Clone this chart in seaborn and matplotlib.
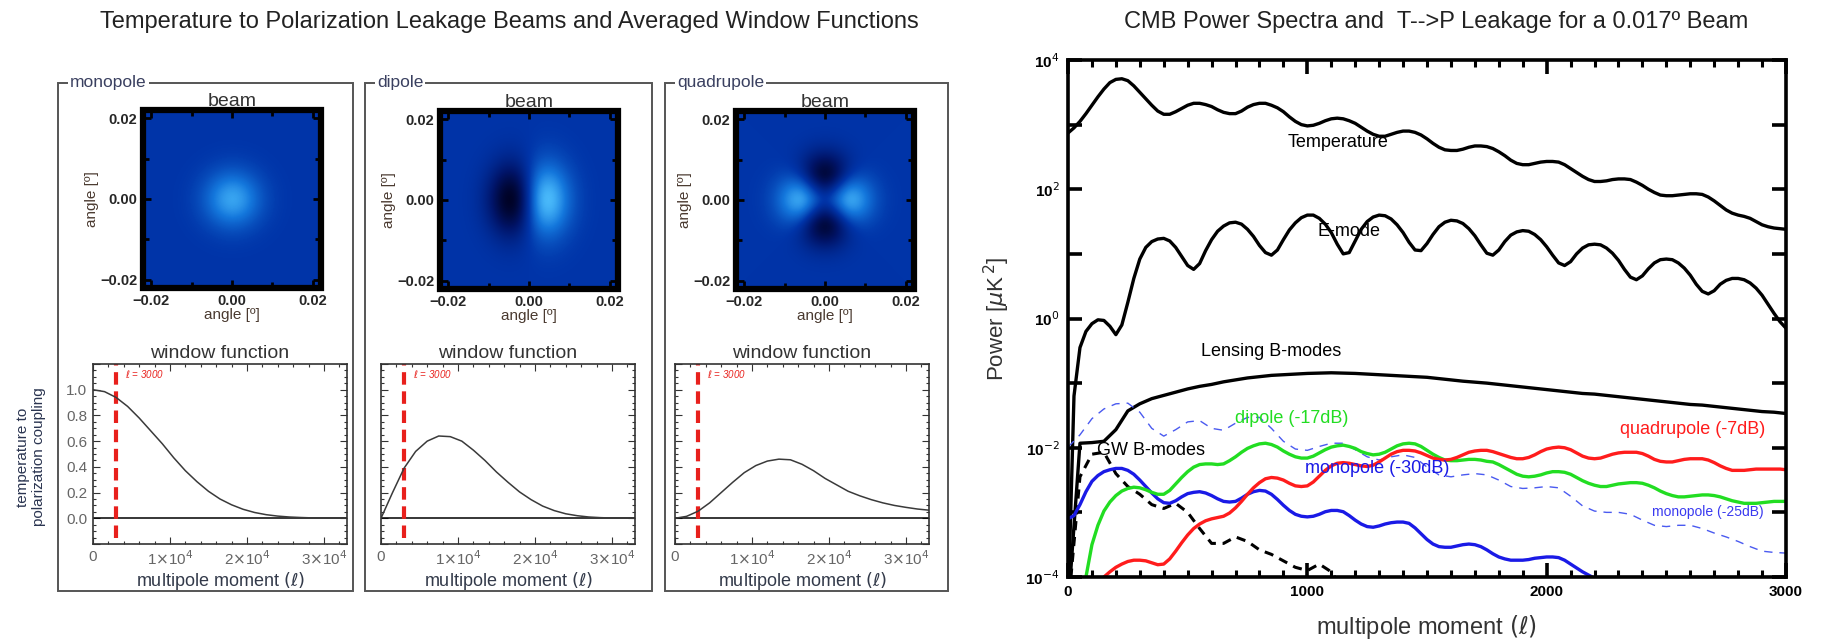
import numpy as np
import matplotlib
matplotlib.use('Agg')
import matplotlib.pyplot as plt
import seaborn as sns
from matplotlib.colors import LinearSegmentedColormap
from matplotlib.patches import Rectangle
from matplotlib.ticker import MultipleLocator, FixedLocator, FuncFormatter, LogLocator, NullLocator

# ---------------- data ----------------
# beam maps: half profiles on 0, 0.003, ... 0.024 deg (mirrored below)
beam_half_axis = [0.0, 0.003, 0.006, 0.009, 0.012, 0.015, 0.018, 0.021, 0.024]
core_half = [1.0, 0.80, 0.41, 0.135, 0.029, 0.004, 0.0, 0.0, 0.0]          # round gaussian core
odd_half = [0.0, 0.88, 0.90, 0.445, 0.127, 0.022, 0.003, 0.0, 0.0]         # dipole x-profile
wide_half = [1.0, 0.88, 0.61, 0.32, 0.135, 0.044, 0.011, 0.002, 0.0]       # dipole y-profile
ring_half = [0.0, 0.48, 0.99, 0.73, 0.28, 0.06, 0.01, 0.0, 0.0]            # quadrupole lobes
mono_peak = 0.9

# averaged window functions
win_ell = np.arange(0, 33001, 1500)
win_mono = [1.00, 0.985, 0.94, 0.87, 0.78, 0.68, 0.58, 0.47, 0.37, 0.285, 0.21, 0.15,
            0.105, 0.07, 0.045, 0.028, 0.017, 0.01, 0.006, 0.003, 0.002, 0.001, 0.0005]
win_dip = [0.0, 0.2, 0.39, 0.52, 0.60, 0.64, 0.635, 0.60, 0.53, 0.45, 0.36, 0.28,
           0.205, 0.145, 0.095, 0.06, 0.035, 0.02, 0.01, 0.005, 0.002, 0.001, 0.0]
win_quad = [0.0, 0.015, 0.055, 0.12, 0.20, 0.28, 0.355, 0.41, 0.445, 0.46, 0.455, 0.42,
            0.37, 0.31, 0.26, 0.21, 0.175, 0.145, 0.12, 0.10, 0.085, 0.072, 0.063]
ell_mark = 3000

# power spectra, log10 of power [uK^2]
ell25 = np.arange(0, 3001, 25)
ell50 = np.arange(0, 3001, 50)
temp_log = [2.87, 2.95, 3.05, 3.17, 3.30, 3.43, 3.55, 3.65, 3.70, 3.71,
            3.68, 3.60, 3.50, 3.40, 3.30, 3.21, 3.16, 3.16, 3.20, 3.25,
            3.30, 3.33, 3.33, 3.31, 3.28, 3.23, 3.19, 3.17, 3.17, 3.21,
            3.27, 3.31, 3.33, 3.33, 3.30, 3.26, 3.20, 3.12, 3.05, 3.00,
            2.98, 2.99, 3.02, 3.06, 3.09, 3.10, 3.09, 3.06, 3.02, 2.96,
            2.90, 2.85, 2.82, 2.82, 2.85, 2.88, 2.90, 2.90, 2.88, 2.84,
            2.78, 2.71, 2.65, 2.61, 2.60, 2.60, 2.62, 2.65, 2.67, 2.67,
            2.66, 2.63, 2.58, 2.52, 2.45, 2.40, 2.38, 2.38, 2.40, 2.42,
            2.43, 2.43, 2.42, 2.38, 2.32, 2.26, 2.20, 2.15, 2.12, 2.12,
            2.13, 2.15, 2.16, 2.16, 2.15, 2.11, 2.06, 2.00, 1.95, 1.91,
            1.90, 1.90, 1.91, 1.92, 1.93, 1.93, 1.92, 1.88, 1.82, 1.75,
            1.68, 1.63, 1.60, 1.58, 1.55, 1.50, 1.45, 1.42, 1.40, 1.39,
            1.38]
emode_log = [-4.5, -1.2, -0.45, -0.2, -0.08, -0.02, -0.03, -0.12, -0.25, -0.1,
             0.25, 0.62, 0.92, 1.1, 1.19, 1.23, 1.24, 1.2, 1.1, 0.96,
             0.82, 0.76, 0.85, 1.05, 1.22, 1.35, 1.43, 1.48, 1.49, 1.46,
             1.38, 1.27, 1.13, 1.02, 0.98, 1.06, 1.22, 1.37, 1.48, 1.56,
             1.6, 1.6, 1.55, 1.46, 1.33, 1.15, 1.0, 1.02, 1.2, 1.38,
             1.5, 1.57, 1.6, 1.59, 1.54, 1.45, 1.33, 1.18, 1.06, 1.05,
             1.16, 1.3, 1.42, 1.49, 1.52, 1.51, 1.47, 1.39, 1.28, 1.14,
             1.01, 0.98, 1.06, 1.19, 1.29, 1.34, 1.36, 1.35, 1.3, 1.22,
             1.11, 0.98, 0.86, 0.82, 0.88, 1.0, 1.09, 1.14, 1.15, 1.14,
             1.09, 1.01, 0.9, 0.76, 0.64, 0.6, 0.66, 0.77, 0.86, 0.91,
             0.92, 0.91, 0.86, 0.78, 0.67, 0.53, 0.42, 0.38, 0.43, 0.53,
             0.59, 0.62, 0.62, 0.6, 0.55, 0.47, 0.36, 0.22, 0.08, -0.05,
             -0.15]
lens_log = [-4.50, -1.93, -1.92, -1.90, -1.72, -1.43, -1.32, -1.24, -1.19, -1.14,
            -1.09, -1.05, -1.02, -0.98, -0.95, -0.92, -0.90, -0.88, -0.87, -0.86,
            -0.85, -0.845, -0.84, -0.845, -0.85, -0.86, -0.87, -0.88, -0.89, -0.90,
            -0.91, -0.93, -0.95, -0.97, -0.985, -1.00, -1.02, -1.04, -1.06, -1.08,
            -1.10, -1.12, -1.14, -1.16, -1.17, -1.19, -1.21, -1.23, -1.25, -1.27,
            -1.29, -1.31, -1.33, -1.34, -1.36, -1.38, -1.40, -1.42, -1.44, -1.45,
            -1.47]
gw_ell = np.arange(0, 1201, 50)
gw_log = [-4.50, -2.45, -2.10, -2.07, -2.40, -2.60, -2.72, -2.88, -2.94, -2.86,
          -3.00, -3.25, -3.48, -3.48, -3.38, -3.45, -3.58, -3.65, -3.75, -3.85,
          -3.90, -3.80, -3.92, -4.20, -4.60]
mono30_ell = np.arange(0, 2301, 25)
mono30_log = [-3.1, -3.05, -2.88, -2.68, -2.52, -2.43, -2.37, -2.34, -2.32, -2.32,
              -2.35, -2.41, -2.5, -2.6, -2.7, -2.79, -2.85, -2.86, -2.82, -2.76,
              -2.71, -2.69, -2.68, -2.7, -2.74, -2.79, -2.83, -2.84, -2.83, -2.78,
              -2.72, -2.68, -2.66, -2.67, -2.72, -2.8, -2.89, -2.97, -3.03, -3.06,
              -3.07, -3.06, -3.03, -2.99, -2.97, -2.97, -2.99, -3.05, -3.12, -3.18,
              -3.22, -3.23, -3.21, -3.18, -3.16, -3.15, -3.15, -3.17, -3.24, -3.33,
              -3.42, -3.49, -3.53, -3.54, -3.54, -3.52, -3.5, -3.49, -3.5, -3.53,
              -3.58, -3.64, -3.69, -3.72, -3.74, -3.74, -3.74, -3.73, -3.71, -3.7,
              -3.69, -3.69, -3.7, -3.74, -3.8, -3.86, -3.92, -3.97, -4.02, -4.08,
              -4.15, -4.22, -4.3]
dip17_ell = np.arange(50, 3001, 25)
dip17_log = [-4.3, -4.0, -3.5, -3.2, -2.98, -2.84, -2.74, -2.67, -2.63, -2.61,
             -2.62, -2.65, -2.69, -2.72, -2.72, -2.66, -2.56, -2.46, -2.37, -2.3,
             -2.26, -2.25, -2.25, -2.26, -2.25, -2.2, -2.14, -2.07, -2.01, -1.97,
             -1.94, -1.93, -1.95, -1.99, -2.05, -2.1, -2.14, -2.16, -2.16, -2.13,
             -2.08, -2.03, -1.99, -1.97, -1.96, -1.98, -2.01, -2.06, -2.09, -2.11,
             -2.1, -2.07, -2.02, -1.97, -1.94, -1.93, -1.94, -1.98, -2.04, -2.1,
             -2.15, -2.19, -2.2, -2.2, -2.19, -2.18, -2.18, -2.19, -2.21, -2.22,
             -2.26, -2.31, -2.36, -2.41, -2.44, -2.45, -2.44, -2.42, -2.39, -2.37,
             -2.37, -2.38, -2.41, -2.46, -2.51, -2.55, -2.58, -2.6, -2.6, -2.58,
             -2.56, -2.55, -2.54, -2.54, -2.55, -2.58, -2.62, -2.67, -2.71, -2.74,
             -2.76, -2.76, -2.75, -2.74, -2.73, -2.73, -2.74, -2.76, -2.79, -2.82,
             -2.84, -2.86, -2.86, -2.86, -2.85, -2.84, -2.83, -2.83, -2.83]
quad7_ell = np.arange(150, 3001, 25)
quad7_log = [-4.0, -3.92, -3.85, -3.8, -3.76, -3.74, -3.74, -3.75, -3.78, -3.81,
             -3.8, -3.72, -3.6, -3.47, -3.35, -3.25, -3.18, -3.13, -3.1, -3.08,
             -3.06, -3.01, -2.93, -2.83, -2.72, -2.62, -2.54, -2.48, -2.46, -2.47,
             -2.5, -2.55, -2.59, -2.6, -2.59, -2.53, -2.44, -2.35, -2.28, -2.24,
             -2.23, -2.24, -2.26, -2.28, -2.29, -2.27, -2.22, -2.16, -2.1, -2.06,
             -2.04, -2.04, -2.05, -2.08, -2.12, -2.16, -2.18, -2.19, -2.18, -2.15,
             -2.11, -2.07, -2.05, -2.04, -2.04, -2.06, -2.09, -2.12, -2.15, -2.17,
             -2.17, -2.15, -2.11, -2.06, -2.02, -2.0, -1.99, -2.0, -2.03, -2.08,
             -2.13, -2.16, -2.17, -2.16, -2.13, -2.1, -2.08, -2.07, -2.07, -2.07,
             -2.09, -2.13, -2.18, -2.21, -2.22, -2.22, -2.2, -2.18, -2.17, -2.17,
             -2.17, -2.19, -2.23, -2.28, -2.32, -2.35, -2.35, -2.35, -2.34, -2.33,
             -2.33, -2.33, -2.33, -2.33, -2.34]
mono25_log = [-1.99, -1.80, -1.55, -1.40, -1.32, -1.31, -1.45, -1.70, -1.82, -1.72,
              -1.60, -1.58, -1.70, -1.73, -1.62, -1.53, -1.53, -1.70, -1.90, -2.02,
              -2.04, -1.98, -1.93, -1.93, -2.03, -2.14, -2.19, -2.14, -2.11, -2.15,
              -2.30, -2.42, -2.45, -2.42, -2.40, -2.42, -2.50, -2.60, -2.63, -2.62,
              -2.60, -2.62, -2.75, -2.90, -2.98, -3.00, -3.00, -3.03, -3.12, -3.20,
              -3.22, -3.20, -3.20, -3.25, -3.32, -3.38, -3.45, -3.53, -3.60, -3.62,
              -3.63]

# ---------------- style ----------------
sns.set_theme(style='white')
NARROW = ['Liberation Sans Narrow', 'Liberation Sans', 'DejaVu Sans']
HELV = ['Liberation Sans', 'DejaVu Sans']
plt.rcParams['font.family'] = NARROW
plt.rcParams['mathtext.fontset'] = 'dejavusans'

beam_cmap = LinearSegmentedColormap.from_list(
    'beam', [(0.0, '#00001c'), (0.25, '#001468'), (0.5, '#0034a8'),
             (0.75, '#1477dc'), (1.0, '#52c4ff')])

W, H = 1834, 644


def rect(x0, y0, x1, y1):
    return [x0 / W, 1 - y1 / H, (x1 - x0) / W, (y1 - y0) / H]


def mirror(half):
    half = np.asarray(half, float)
    return np.concatenate([half[:0:-1], half])


def mirror_odd(half):
    half = np.asarray(half, float)
    return np.concatenate([-half[:0:-1], half])


fig = plt.figure(figsize=(W / 100, H / 100), dpi=100)

fig.text(509 / W, 1 - 22 / H, 'Temperature to Polarization Leakage Beams and Averaged Window Functions',
         ha='center', va='center', fontsize=17, color='#222222')
fig.text(1436 / W, 1 - 22 / H, 'CMB Power Spectra and  T-->P Leakage for a 0.017º Beam',
         ha='center', va='center', fontsize=17, color='#222222')

# ---------------- beam maps ----------------
core = mirror(core_half)
beams = {
    'monopole': mono_peak * np.outer(core, core),
    'dipole': np.outer(mirror(wide_half), mirror_odd(odd_half)),
    'quadrupole': np.outer(core, mirror(ring_half)) - np.outer(mirror(ring_half), core),
}
beams['dipole'] /= np.abs(beams['dipole']).max()
beams['quadrupole'] /= np.abs(beams['quadrupole']).max()
half_cell = 0.0015
edge = beam_half_axis[-1] + half_cell

panels = [
    # name, box, beam axes, window axes, window data
    ('monopole', (58, 83, 353, 591), (142, 110, 322, 288), (93, 364, 347, 544), win_mono),
    ('dipole', (365, 83, 652, 591), (439, 111, 619, 289), (381, 364, 635, 544), win_dip),
    ('quadrupole', (665, 83, 948, 591), (735, 111, 915, 289), (675, 364, 929, 544), win_quad),
]

for i, (name, box, bpos, wpos, wdata) in enumerate(panels):
    bx0, by0, bx1, by1 = box
    fig.add_artist(Rectangle((bx0 / W, 1 - by1 / H), (bx1 - bx0) / W, (by1 - by0) / H,
                             transform=fig.transFigure, fill=False, lw=1.4, ec='#555555', zorder=1))
    fig.text((bx0 + 12) / W, 1 - by0 / H, name, ha='left', va='center', fontsize=12.5,
             color='#3a4060', zorder=3,
             bbox=dict(fc='white', ec='none', pad=1.5))

    # beam
    ax = fig.add_axes(rect(*bpos))
    ax.imshow(beams[name], extent=(-edge, edge, -edge, edge), origin='lower', cmap=beam_cmap,
              vmin=-1, vmax=1, interpolation='bicubic')
    ax.set_xlim(-0.022, 0.022)
    ax.set_ylim(-0.022, 0.022)
    for s in ax.spines.values():
        s.set_visible(False)
    ax.add_patch(Rectangle((0, 0), 1, 1, transform=ax.transAxes, fill=False, lw=4.5,
                           ec='black', joinstyle='miter', clip_on=False, zorder=5))
    ax.xaxis.set_major_locator(FixedLocator([-0.02, 0.0, 0.02]))
    ax.yaxis.set_major_locator(FixedLocator([-0.02, 0.0, 0.02]))
    ax.xaxis.set_minor_locator(FixedLocator([-0.01, 0.01]))
    ax.yaxis.set_minor_locator(FixedLocator([-0.01, 0.01]))
    fmt = FuncFormatter(lambda v, p: f'{v:.2f}'.replace('-', '\u2212'))
    ax.xaxis.set_major_formatter(fmt)
    ax.yaxis.set_major_formatter(fmt)
    ax.tick_params(which='both', direction='in', top=True, right=True, bottom=True, left=True,
                   width=2, color='black', pad=4)
    ax.tick_params(which='major', length=6)
    ax.tick_params(which='minor', length=4)
    for lab in ax.get_xticklabels() + ax.get_yticklabels():
        lab.set_fontweight('bold')
        lab.set_fontsize(10.5)
        lab.set_family(HELV)
    ax.set_xlabel('angle [º]', fontsize=11, color='#4a3a30', labelpad=0)
    ax.set_ylabel('angle [º]', fontsize=11, color='#4a3a30', labelpad=1)
    ax.set_title('beam', fontsize=14, color='#333333', pad=2)

    # window function
    ax = fig.add_axes(rect(*wpos))
    ax.axhline(0, color='black', lw=1.1)
    ax.axvline(ell_mark, ymin=0.035, ymax=1, color='#e8201c', lw=3, dashes=(3, 1.6))
    sns.lineplot(x=win_ell, y=wdata, ax=ax, color='#3a3a3a', lw=1.1, estimator=None, sort=False)
    ax.text(ell_mark + 1100, 1.12, r'$\ell$ = 3000', color='#e8201c', fontsize=7, style='italic',
            ha='left', va='center')
    ax.set_xlim(0, 33000)
    ax.set_ylim(-0.2, 1.2)
    for s in ax.spines.values():
        s.set_linewidth(1.2)
        s.set_color('#333333')
    ax.xaxis.set_major_locator(FixedLocator([0, 10000, 20000, 30000]))
    ax.xaxis.set_minor_locator(MultipleLocator(2000))
    ax.yaxis.set_major_locator(MultipleLocator(0.2))
    ax.yaxis.set_minor_locator(MultipleLocator(0.05))
    ax.xaxis.set_major_formatter(FuncFormatter(
        lambda v, p: '0' if v == 0 else r'%d$\times$10$^4$' % round(v / 1e4)))
    if i == 0:
        ax.yaxis.set_major_formatter(FuncFormatter(
            lambda v, p: f'{v:.1f}' if -0.05 < v < 1.1 else ''))
    else:
        ax.set_yticklabels([])
    ax.tick_params(which='both', direction='in', top=True, right=True, bottom=True, left=True,
                   color='#333333', width=0.8, labelcolor='#666666', labelsize=11, pad=4)
    ax.tick_params(which='major', length=5)
    ax.tick_params(which='minor', length=2.5)
    for lab in ax.get_xticklabels() + ax.get_yticklabels():
        lab.set_family(HELV)
    ax.set_xlabel(r'multipole moment $(\ell)$', fontsize=13, color='#333a4a', labelpad=1)
    ax.set_ylabel('')
    ax.set_title('window function', fontsize=14, color='#333333', pad=4)

fig.text(31 / W, 1 - 457 / H, 'temperature to\npolarization coupling', rotation=90,
         ha='center', va='center', fontsize=11, color='#2a3450', linespacing=1.2)

# ---------------- power spectra ----------------
ax = fig.add_axes(rect(1068, 60, 1786, 577))
ax.set_yscale('log')
curves = [
    (ell25, temp_log, 'black', 2.4, '-'),
    (ell25, emode_log, 'black', 2.4, '-'),
    (ell50, lens_log, 'black', 2.4, '-'),
    (gw_ell, gw_log, 'black', 2.2, (0, (3, 2.2))),
    (ell50, mono25_log, '#4a5af0', 1.0, (0, (6, 5))),
    (mono30_ell, mono30_log, '#1a1ae6', 2.4, '-'),
    (dip17_ell, dip17_log, '#22dd22', 2.4, '-'),
    (quad7_ell, quad7_log, '#ff1c1c', 2.4, '-'),
]
for xs, logs, col, lw, ls in curves:
    sns.lineplot(x=xs, y=np.power(10.0, logs), ax=ax, color=col, lw=lw, linestyle=ls,
                 estimator=None, sort=False, solid_joinstyle='round')
ax.set_xlim(0, 3000)
ax.set_ylim(1e-4, 1e4)
for s in ax.spines.values():
    s.set_linewidth(2.6)
    s.set_color('black')
    s.set_capstyle('projecting')
ax.xaxis.set_major_locator(FixedLocator([0, 1000, 2000, 3000]))
ax.xaxis.set_minor_locator(MultipleLocator(100))
ax.yaxis.set_major_locator(LogLocator(base=10, numticks=20))
ax.yaxis.set_minor_locator(NullLocator())
ax.yaxis.set_major_formatter(FuncFormatter(
    lambda v, p: (r'10$^{%d}$' % round(np.log10(v))).replace('-', '\u2212')
    if round(np.log10(v)) % 2 == 0 else ''))
ax.tick_params(which='both', direction='in', top=True, right=True, bottom=True, left=True,
               color='black', labelcolor='black', pad=6)
ax.tick_params(which='major', length=10, width=2.6, labelsize=11)
ax.tick_params(which='minor', length=5, width=2.2)
for lab in ax.get_xticklabels() + ax.get_yticklabels():
    lab.set_fontweight('bold')
    lab.set_family(HELV)
ax.set_xlabel(r'multipole moment $(\ell)$', fontsize=17, color='#333333', labelpad=10)
ax.set_ylabel(r'Power [$\mu$K$^{\,2}$]', fontsize=16, color='#333333', labelpad=10)

labels = [
    (1130, 10 ** 2.72, 'Temperature', 'black', 13),
    (1175, 10 ** 1.34, 'E-mode', 'black', 13),
    (850, 10 ** -0.51, 'Lensing B-modes', 'black', 13),
    (935, 10 ** -1.54, 'dipole (-17dB)', '#22dd22', 13),
    (2610, 10 ** -1.71, 'quadrupole (-7dB)', '#ff1c1c', 13),
    (345, 10 ** -2.05, 'GW B-modes', 'black', 13),
    (1290, 10 ** -2.32, 'monopole (-30dB)', '#1a1ae6', 13),
    (2675, 10 ** -2.99, 'monopole (-25dB)', '#3a3af0', 10),
]
for lx, ly, txt, col, fs in labels:
    ax.text(lx, ly, txt, color=col, fontsize=fs, ha='center', va='center')

fig.savefig('out.png', dpi=100, facecolor='white')
